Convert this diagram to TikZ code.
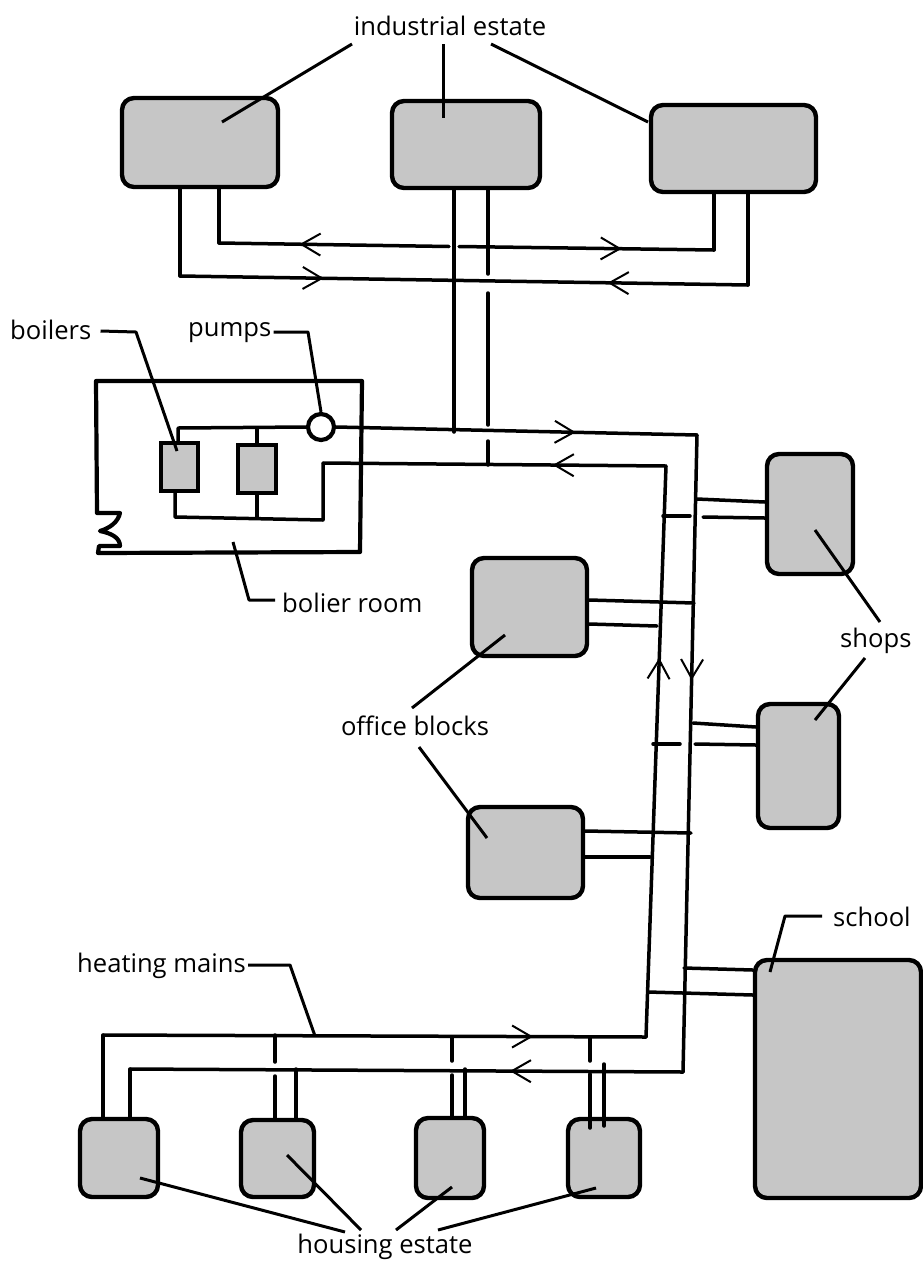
\documentclass[tikz,border=0pt]{standalone}
\usepackage{fontspec}
\setmainfont{Open Sans}
\usetikzlibrary{arrows.meta,decorations.markings}
\definecolor{bldfill}{HTML}{C6C6C6}
\tikzset{
  barbtip/.tip={Straight Barb[length=19pt,width=22pt,line width=2pt]},
  fwd/.style={postaction={decorate,decoration={markings,mark=at position #1 with {\arrow{barbtip}}}}},
  bwd/.style={postaction={decorate,decoration={markings,mark=at position #1 with {\arrowreversed{barbtip}}}}},
  bld/.style={draw=black,fill=bldfill,line width=4.4pt,rounded corners=12pt,inner sep=0pt},
  blr/.style={draw=black,fill=bldfill,line width=4.4pt,inner sep=0pt},
  pipe/.style={draw=black,line width=3.5pt,line cap=round,line join=round},
  wall/.style={draw=black,line width=4.2pt,line cap=round,line join=round},
  leader/.style={draw=black,line width=3pt,line join=round},
  lbl/.style={font=\fontsize{25.6}{30}\selectfont,inner sep=0pt,text=black}
}
\begin{document}
\begin{tikzpicture}[x=1pt,y=-1pt]
\useasboundingbox[fill=white] (0,0) rectangle (922,1262);
% buildings
\node[bld,minimum width=156pt,minimum height=89pt] (ind1) at (200,142.5) {};
\node[bld,minimum width=148pt,minimum height=87pt] (ind2) at (466,144.5) {};
\node[bld,minimum width=165pt,minimum height=87pt] (ind3) at (733.5,148.5) {};
\node[blr,minimum width=37pt,minimum height=48pt] (boil1) at (179.5,467) {};
\node[blr,minimum width=38pt,minimum height=48pt] (boil2) at (257,469) {};
\node[draw=black,line width=4.2pt,circle,minimum size=26pt,inner sep=0pt] (pump) at (321,427) {};
\node[bld,minimum width=115pt,minimum height=98pt] (off1) at (529.5,607) {};
\node[bld,minimum width=115pt,minimum height=91pt] (off2) at (525.5,852.5) {};
\node[bld,minimum width=86pt,minimum height=120pt] (shop1) at (810,514) {};
\node[bld,minimum width=81pt,minimum height=124pt] (shop2) at (798.5,766) {};
\node[bld,minimum width=166pt,minimum height=238pt] (school) at (838,1079) {};
\node[bld,minimum width=78pt,minimum height=78pt] (h1) at (119,1158) {};
\node[bld,minimum width=73pt,minimum height=77pt] (h2) at (277.5,1158.5) {};
\node[bld,minimum width=68pt,minimum height=80pt] (h3) at (450,1158) {};
\node[bld,minimum width=72pt,minimum height=78pt] (h4) at (604,1158) {};
% labels
\node[lbl] (tind) at (450,26) {industrial estate};
\node[lbl,anchor=west] (tboil) at (10,330) {boilers};
\node[lbl,anchor=west] (tpump) at (188,333) {pumps};
\node[lbl,anchor=west] (troom) at (282,603) {bolier room};
\node[lbl,anchor=west] (tshop) at (840,641) {shops};
\node[lbl] (toff) at (415,726) {office blocks};
\node[lbl,anchor=west] (tsch) at (833,917) {school};
\node[lbl,anchor=west] (tmain) at (77,966) {heating mains};
\node[lbl] (thous) at (385,1247) {housing estate};
% junction coordinates
\coordinate (a1) at (180,276);
\coordinate (a2) at (748,285);
\coordinate (b1) at (219,243);
\coordinate (b2) at (714,250);
\coordinate (sup1) at (697,435);
\coordinate (sup2) at (683,1072);
\coordinate (sup3) at (130,1069);
\coordinate (ret0) at (323,520);
\coordinate (ret1) at (323,463);
\coordinate (ret2) at (666,466);
\coordinate (ret3) at (646,1037);
\coordinate (ret4) at (103,1035);
\coordinate (bl1) at (175,517);
\coordinate (bt1) at (178,428);
\coordinate (bt2) at (257,428);
\coordinate (bb2) at (257,518);
% industrial pipes
\draw[pipe] (ind1.south -| a1) -- (a1);
\draw[pipe,fwd=0.253,bwd=0.753] (a1) -- (a2);
\draw[pipe] (a2) -- (ind3.south -| a2);
\draw[pipe] (ind1.south -| b1) -- (b1);
\coordinate (bgapl) at (449,246.5);
\coordinate (bgapr) at (459,246.5);
\draw[pipe,bwd=0.35] (b1) -- (bgapl);
\draw[pipe,fwd=0.638] (bgapr) -- (b2);
\draw[pipe] (b2) -- (ind3.south -| b2);
% boiler room
\coordinate (wnw) at (96,381);
\coordinate (wne) at (362,381);
\coordinate (wse) at (360,552);
\coordinate (wsw) at (98,553);
\draw[wall] (wnw) -- (wne) -- (wse) -- (wsw) -- (99,546) -- (120,546)
  .. controls (120,537) and (110,533) .. (100,531)
  .. controls (110,528) and (118,522) .. (120,513) -- (97,513) -- (wnw);
% boiler pipes
\draw[pipe] (pump.west) -- (bt1) -- (bt1 |- boil1.north);
\draw[pipe] (bt2) -- (boil2.north);
\draw[pipe] (boil1.south -| bl1) -- (bl1) -- (ret0) -- (ret1);
\draw[pipe] (boil2.south) -- (bb2);
% mains
\draw[pipe,fwd=0.664] (pump.east) -- (sup1);
\draw[pipe,fwd=0.385] (sup1) -- (sup2);
\draw[pipe,fwd=0.313] (sup2) -- (sup3);
\draw[pipe] (sup3) -- (sup3 |- h1.north);
\draw[pipe,bwd=0.67] (ret1) -- (ret2);
\draw[pipe,bwd=0.336] (ret2) -- (ret3);
\draw[pipe,bwd=0.208] (ret3) -- (ret4);
\draw[pipe] (ret4) -- (ret4 |- h1.north);
% link industrial estate to mains
\coordinate (l1) at (454,432);
\coordinate (l2a) at (488,274);
\coordinate (l2b) at (488,293);
\coordinate (l2c) at (488,425);
\coordinate (l2d) at (488,441);
\coordinate (l2e) at (488,465);
\draw[pipe] (ind2.south -| l1) -- (l1);
\draw[pipe] (ind2.south -| l2a) -- (l2a);
\draw[pipe] (l2b) -- (l2c);
\draw[pipe] (l2d) -- (l2e);
% shops, offices, school branches
\coordinate (s1u) at (697,499);
\draw[pipe] (s1u) -- (shop1.west |- 0,502);
\coordinate (s1la) at (663,516);
\coordinate (s1lb) at (690,516);
\coordinate (s1lc) at (703,517);
\draw[pipe] (s1la) -- (s1lb);
\draw[pipe] (s1lc) -- (shop1.west |- 0,518);
\coordinate (o1u) at (694,603);
\coordinate (o1l) at (657,626);
\draw[pipe] (off1.east |- 0,600) -- (o1u);
\draw[pipe] (off1.east |- 0,624) -- (o1l);
\coordinate (s2u) at (693,723);
\coordinate (s2la) at (653,744);
\coordinate (s2lb) at (680,744);
\coordinate (s2lc) at (695,744);
\draw[pipe] (s2u) -- (shop2.west |- 0,727);
\draw[pipe] (s2la) -- (s2lb);
\draw[pipe] (s2lc) -- (shop2.west |- 0,745);
\coordinate (o2u) at (691,833);
\coordinate (o2l) at (650,857);
\draw[pipe] (off2.east |- 0,831) -- (o2u);
\draw[pipe] (off2.east |- 0,857) -- (o2l);
\coordinate (schu) at (684,968);
\coordinate (schl) at (648,992);
\draw[pipe] (schu) -- (school.west |- 0,970);
\draw[pipe] (schl) -- (school.west |- 0,995);
% housing branches
\coordinate (h2a) at (275,1035);
\coordinate (h2b) at (275,1062);
\coordinate (h2c) at (275,1076);
\coordinate (h2d) at (296,1069);
\draw[pipe] (h2a) -- (h2b);
\draw[pipe] (h2c) -- (h2c |- h2.north);
\draw[pipe] (h2d) -- (h2d |- h2.north);
\coordinate (h3a) at (452,1037);
\coordinate (h3b) at (452,1061);
\coordinate (h3c) at (452,1075);
\coordinate (h3d) at (465,1069);
\draw[pipe] (h3a) -- (h3b);
\draw[pipe] (h3c) -- (h3c |- h3.north);
\draw[pipe] (h3d) -- (h3d |- h3.north);
\coordinate (h4a) at (590,1038);
\coordinate (h4b) at (590,1061);
\coordinate (h4c) at (590,1074);
\coordinate (h4d) at (604,1064);
\draw[pipe] (h4a) -- (h4b);
\draw[pipe] (h4c) -- (590,1128);
\draw[pipe] (h4d) -- (604,1126);
% leaders
\coordinate (li1) at (222,122);
\coordinate (li2) at (443,118);
\coordinate (li3) at (648,122);
\draw[leader] (352,44) -- (li1);
\draw[leader] (443,44) -- (li2);
\draw[leader] (491,44) -- (li3);
\coordinate (lb) at (136,332);
\coordinate (lbend) at (177,451);
\draw[leader] (tboil.east) ++(9,1) -- (lb) -- (lbend);
\coordinate (lp) at (308,332);
\draw[leader] (tpump.east) ++(2,-1) -- (lp) -- (pump.north);
\coordinate (lr) at (249,600);
\coordinate (lrend) at (233,542);
\draw[leader] (troom.west) ++(-7,-3) -- (lr) -- (lrend);
\coordinate (ls1) at (815,530);
\coordinate (ls2) at (815,720);
\draw[leader] (ls1) -- (880,622);
\draw[leader] (ls2) -- (865,658);
\coordinate (lo1) at (505,635);
\coordinate (lo2) at (487,838);
\draw[leader] (lo1) -- (412,708);
\draw[leader] (419,747) -- (lo2);
\coordinate (lsc) at (785,916);
\coordinate (lscend) at (770,972);
\draw[leader] (tsch.west) ++(-11,-1) -- (lsc) -- (lscend);
\coordinate (lm) at (290,965);
\coordinate (lmend) at (315,1036);
\draw[leader] (tmain.east) ++(2,-1) -- (lm) -- (lmend);
\coordinate (lh1) at (140,1178);
\coordinate (lh2) at (287,1155);
\coordinate (lh3) at (452,1187);
\coordinate (lh4) at (596,1188);
\draw[leader] (lh1) -- (345,1232);
\draw[leader] (lh2) -- (361,1230);
\draw[leader] (lh3) -- (396,1230);
\draw[leader] (lh4) -- (438,1230);
\end{tikzpicture}
\end{document}
